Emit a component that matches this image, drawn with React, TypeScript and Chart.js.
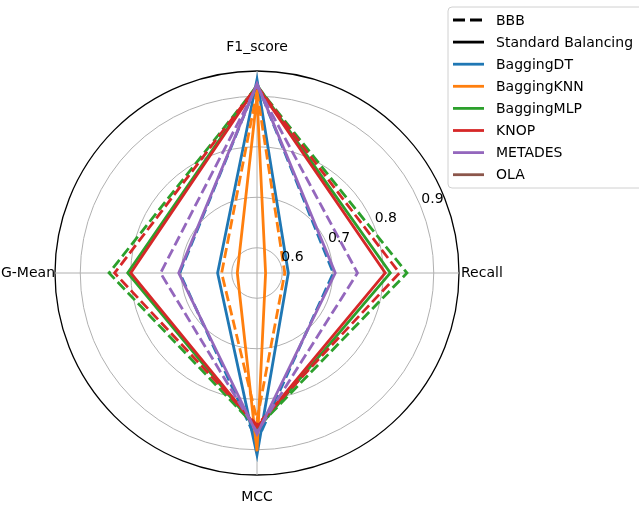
import React, { useEffect, useRef } from "react";
import { Chart, registerables } from "chart.js";

Chart.register(...registerables);

const axisLabels = ["F1_score", "Recall", "MCC", "G-Mean"];
const tickValues = [0.6, 0.7, 0.8, 0.9];
const rMin = 0.55;
const rMax = 0.95;

const classifiers = ["BaggingDT", "BaggingKNN", "BaggingMLP", "KNOP", "METADES", "OLA"];
const colors = ["#1f77b4", "#ff7f0e", "#2ca02c", "#d62728", "#9467bd", "#8c564b"];

// BBB (dashed)
const bbbBaggingDT = [0.925, 0.701, 0.883, 0.703];
const bbbBaggingKNN = [0.91, 0.605, 0.841, 0.62];
const bbbBaggingMLP = [0.92, 0.847, 0.857, 0.843];
const bbbKNOP = [0.92, 0.832, 0.851, 0.832];
const bbbMETADES = [0.92, 0.749, 0.865, 0.741];

// Standard Balancing (solid)
const stdBaggingDT = [0.933, 0.612, 0.91, 0.628];
const stdBaggingKNN = [0.9, 0.567, 0.903, 0.589];
const stdBaggingMLP = [0.922, 0.814, 0.859, 0.806];
const stdKNOP = [0.92, 0.804, 0.855, 0.8];
const stdMETADES = [0.925, 0.705, 0.869, 0.705];

const bbbSeries = [bbbBaggingDT, bbbBaggingKNN, bbbBaggingMLP, bbbKNOP, bbbMETADES];
const stdSeries = [stdBaggingDT, stdBaggingKNN, stdBaggingMLP, stdKNOP, stdMETADES];

const FONT = '"DejaVu Sans", sans-serif';

const overlayPlugin = {
  id: "overlay",
  afterDraw(chart: any) {
    const ctx = chart.ctx;
    const sc = chart.scales.r;
    const cx = sc.xCenter;
    const cy = sc.yCenter;
    const R = sc.drawingArea;
    ctx.save();
    ctx.font = `14px ${FONT}`;
    ctx.fillStyle = "#000";
    // radial tick labels at 22.5 degrees
    const ang = (22.5 * Math.PI) / 180;
    ctx.textAlign = "left";
    ctx.textBaseline = "bottom";
    tickValues.forEach((v) => {
      const d = sc.getDistanceFromCenterForValue(v);
      ctx.fillText(v.toFixed(1), cx + d * Math.cos(ang) + 1, cy - d * Math.sin(ang) + 1);
    });
    // axis labels
    ctx.textBaseline = "middle";
    ctx.textAlign = "center";
    ctx.fillText(axisLabels[0], cx, cy - R - 24);
    ctx.fillText(axisLabels[2], cx, cy + R + 22);
    ctx.textAlign = "left";
    ctx.fillText(axisLabels[1], cx + R + 2, cy);
    ctx.textAlign = "right";
    ctx.fillText(axisLabels[3], cx - R - 0, cy);

    // legend
    const lx = 448, ly = 7, lw = 210, lh = 181;
    ctx.beginPath();
    const rad = 4;
    ctx.moveTo(lx + rad, ly);
    ctx.lineTo(lx + lw - rad, ly);
    ctx.arcTo(lx + lw, ly, lx + lw, ly + rad, rad);
    ctx.lineTo(lx + lw, ly + lh - rad);
    ctx.arcTo(lx + lw, ly + lh, lx + lw - rad, ly + lh, rad);
    ctx.lineTo(lx + rad, ly + lh);
    ctx.arcTo(lx, ly + lh, lx, ly + lh - rad, rad);
    ctx.lineTo(lx, ly + rad);
    ctx.arcTo(lx, ly, lx + rad, ly, rad);
    ctx.closePath();
    ctx.fillStyle = "rgba(255,255,255,0.8)";
    ctx.fill();
    ctx.strokeStyle = "#d0d0d0";
    ctx.lineWidth = 1;
    ctx.stroke();

    const entries = [
      { label: "BBB", color: "#000", dash: [12, 5] },
      { label: "Standard Balancing", color: "#000", dash: [] as number[] },
      ...classifiers.map((c, i) => ({ label: c, color: colors[i], dash: [] as number[] })),
    ];
    entries.forEach((e, i) => {
      const y = 20 + i * 22.1;
      ctx.beginPath();
      ctx.setLineDash(e.dash);
      ctx.strokeStyle = e.color;
      ctx.lineWidth = 2.8;
      ctx.moveTo(453, y);
      ctx.lineTo(484, y);
      ctx.stroke();
      ctx.setLineDash([]);
      ctx.fillStyle = "#000";
      ctx.textAlign = "left";
      ctx.textBaseline = "middle";
      ctx.fillText(e.label, 496, y + 1);
    });
    ctx.restore();
  },
};

export default function App() {
  const ref = useRef<HTMLCanvasElement | null>(null);
  useEffect(() => {
    if (!ref.current) return;
    const datasets: any[] = [];
    bbbSeries.forEach((vals, i) => {
      datasets.push({
        label: `${classifiers[i]} BBB`,
        data: vals,
        borderColor: colors[i],
        borderWidth: 2.8,
        borderDash: [10.3, 4.4],
        fill: false,
        pointRadius: 0,
        tension: 0,
      });
      datasets.push({
        label: `${classifiers[i]} Standard`,
        data: stdSeries[i],
        borderColor: colors[i],
        borderWidth: 2.8,
        borderDash: [],
        fill: false,
        pointRadius: 0,
        tension: 0,
      });
    });
    datasets.forEach((d, i) => (d.order = datasets.length - i));
    const chart = new Chart(ref.current, {
      type: "radar",
      data: { labels: axisLabels, datasets },
      options: {
        animation: false,
        responsive: false,
        devicePixelRatio: 1,
        layout: { padding: { left: 55, right: 180, top: 71, bottom: 33 } },
        plugins: { legend: { display: false }, tooltip: { enabled: false } },
        elements: { line: { borderJoinStyle: "miter" } },
        scales: {
          r: {
            min: rMin,
            max: rMax,
            beginAtZero: false,
            afterBuildTicks: (scale: any) => {
              scale.ticks = [rMin, ...tickValues, rMax].map((v) => ({ value: v }));
            },
            ticks: { display: false },
            pointLabels: { display: false },
            grid: {
              circular: true,
              color: (c: any) => (c.tick && Math.abs(c.tick.value - rMax) < 1e-6 ? "#000" : "#b0b0b0"),
              lineWidth: (c: any) => (c.tick && Math.abs(c.tick.value - rMax) < 1e-6 ? 1.3 : 1),
            },
            angleLines: { display: true, color: "#b0b0b0", lineWidth: 1 },
          },
        },
      },
      plugins: [overlayPlugin],
    } as any);
    return () => chart.destroy();
  }, []);
  return (
    <div style={{ position: "absolute", left: 0, top: 0, width: 639, height: 508, background: "#fff" }}>
      <canvas ref={ref} width={639} height={508} style={{ width: 639, height: 508, display: "block" }} />
    </div>
  );
}
